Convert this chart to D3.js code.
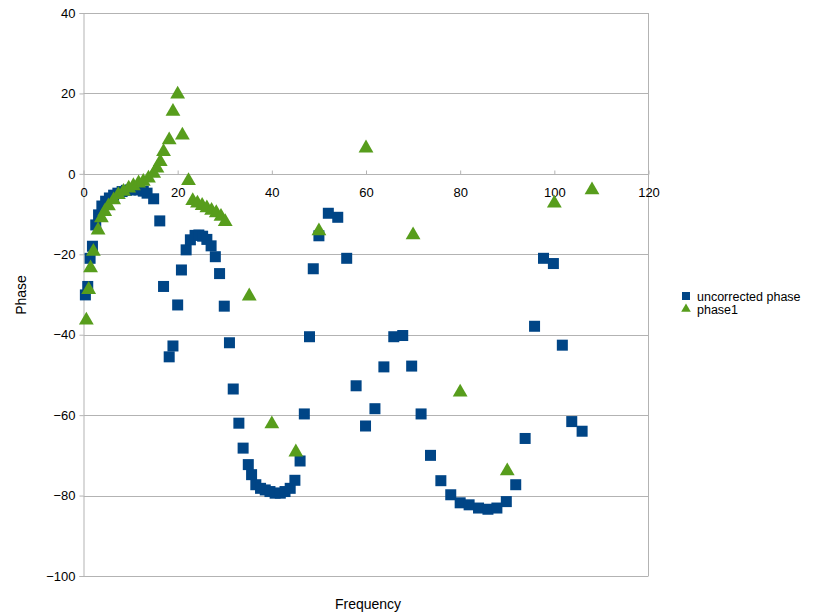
<!DOCTYPE html>
<html>
<head>
<meta charset="utf-8">
<script src="https://cdn.jsdelivr.net/npm/d3@7"></script>
<style>
  html, body { margin: 0; padding: 0; background: #fff; }
  svg { display: block; font-family: "Liberation Sans", Arial, sans-serif; }
</style>
</head>
<body>
<svg id="chart" width="826" height="615"></svg>
<script>
// ---- data ----
const seriesNames = ["uncorrected phase", "phase1"];
const xTicks = [0, 20, 40, 60, 80, 100, 120];
const yTicks = [40, 20, 0, -20, -40, -60, -80, -100];

const uncorrectedFreq = [0.4, 0.9, 1.4, 1.9, 2.6, 3.2, 3.9, 4.7, 5.5, 6.4, 7.3, 8.2, 9.1, 10, 10.9, 11.8, 12.7, 13.5, 14.9, 16.2, 17, 18.2, 19,
  20, 20.8, 21.8, 22.7, 23.7, 24.5, 25.3, 26.2, 27.1, 28, 28.9, 29.9, 31, 31.8, 33, 33.9, 35, 35.7, 36.6, 37.6, 38.6, 39.6, 40.7, 41.8, 42.8, 43.9, 44.9, 46, 46.9, 48, 48.8,
  50, 52, 54, 55.9, 57.9, 59.9, 61.9, 63.8, 65.9, 67.8, 69.7, 71.7, 73.7, 75.9, 78, 80, 81.9, 83.9, 85.9, 87.8, 89.8, 91.8, 93.8, 95.8, 97.7, 99.8, 101.7, 103.7, 105.9];
const uncorrectedPhase = [-30.1, -28, -21, -18, -12.7, -10.2, -8, -6.8, -6, -5.3, -4.8, -4.4, -4.1, -4, -3.9, -4, -4.3, -4.8, -6.2, -11.7, -28, -45.5, -42.8,
  -32.6, -23.9, -18.9, -16.4, -15.3, -15.2, -15.5, -16.3, -17.9, -20.6, -24.8, -32.9, -42, -53.5, -62, -68.2, -72.3, -74.8, -77.3, -78.2, -78.6, -79, -79.4, -79.4, -79, -78.2, -76.2, -71.4, -59.7, -40.5, -23.6,
  -15.4, -9.8, -10.8, -21, -52.7, -62.7, -58.4, -48, -40.5, -40.2, -47.8, -59.7, -70, -76.3, -79.8, -81.8, -82.3, -83.1, -83.4, -83.1, -81.5, -77.3, -65.8, -37.9, -21, -22.3, -42.6, -61.6, -64];

const phase1Freq = [0.6, 1.1, 1.5, 2.1, 3.1, 3.8, 4.5, 5.3, 6.4, 7.4, 8.5, 9.6, 10.6, 11.7, 12.7, 13.8, 14.9, 15.6, 16.3, 17, 18.2, 19, 20, 21, 22.3,
  23.2, 24.2, 25.2, 26.2, 27.2, 28.2, 29.2, 30.1, 35.2, 40, 45.1, 50, 60, 70, 80, 90, 100, 108];
const phase1Phase = [-36.4, -28.8, -23.4, -19.3, -14, -11, -9.4, -8, -6.5, -5.2, -4.4, -3.6, -3, -2.3, -1.9, -1.1, 0.1, 1.4, 3, 5.5, 8.4, 15.5, 19.8, 9.6, -1.7,
  -6.7, -7.3, -7.9, -8.5, -9.1, -9.7, -10.6, -11.9, -30.4, -62.2, -69.2, -14.2, 6.4, -15.2, -54.3, -73.9, -7.3, -4];

const colors = ["#004586", "#579d1c"];

// ---- chart ----
const svg = d3.select("#chart");
const plotLeft = 83.5, plotRight = 648.5, plotTop = 13, plotBottom = 576;

const x = d3.scaleLinear().domain([0, 120]).range([plotLeft, plotRight]);
const y = d3.scaleLinear().domain([-100, 40]).range([plotBottom, plotTop]);

const grid = "#b3b3b3";

// horizontal gridlines
svg.append("g").selectAll("line").data(yTicks).join("line")
  .attr("x1", plotLeft).attr("x2", plotRight)
  .attr("y1", d => Math.round(y(d)) + 0.5).attr("y2", d => Math.round(y(d)) + 0.5)
  .attr("stroke", grid).attr("stroke-width", 1);

// right border
svg.append("line").attr("x1", plotRight).attr("x2", plotRight).attr("y1", plotTop).attr("y2", plotBottom)
  .attr("stroke", grid);

// y axis
const yAxis = d3.axisLeft(y).tickValues(yTicks).tickSize(4).tickPadding(4).tickFormat(d3.format("d"));
const gy = svg.append("g").attr("transform", `translate(${plotLeft},0)`).call(yAxis);
gy.select(".domain").attr("stroke", grid);
gy.selectAll(".tick line").attr("stroke", grid);
gy.selectAll(".tick text").attr("font-size", 13).attr("fill", "#000")
  .attr("font-family", "Liberation Sans, Arial, sans-serif");

// x axis at y = 0
const xAxis = d3.axisBottom(x).tickValues(xTicks).tickSize(4).tickPadding(9).tickFormat(d3.format("d"));
const gx = svg.append("g").attr("transform", `translate(0,${Math.round(y(0)) + 0.5})`).call(xAxis);
gx.select(".domain").remove();
gx.selectAll(".tick line").attr("stroke", grid).attr("y1", -4).attr("y2", 0);
gx.selectAll(".tick text").attr("font-size", 13).attr("fill", "#000")
  .attr("font-family", "Liberation Sans, Arial, sans-serif");

// series 1: squares
const blue = uncorrectedFreq.map((f, i) => ({ f, p: uncorrectedPhase[i] }));
svg.append("g").selectAll("rect").data(blue).join("rect")
  .attr("x", d => x(d.f) - 5.5).attr("y", d => y(d.p) - 5.5)
  .attr("width", 11).attr("height", 11)
  .attr("fill", colors[0]);

// series 2: triangles
const green = phase1Freq.map((f, i) => ({ f, p: phase1Phase[i] }));
const tri = d3.symbol().type(d3.symbolTriangle).size(95);
svg.append("g").selectAll("path").data(green).join("path")
  .attr("d", tri)
  .attr("transform", d => `translate(${x(d.f)},${y(d.p)})`)
  .attr("fill", colors[1]);

// axis titles
svg.append("text").attr("x", (plotLeft + plotRight) / 2 + 2).attr("y", 609)
  .attr("text-anchor", "middle").attr("font-size", 14).text("Frequency");
svg.append("text").attr("transform", "translate(26,295) rotate(-90)")
  .attr("text-anchor", "middle").attr("font-size", 14).text("Phase");

// legend
const lg = svg.append("g");
lg.append("rect").attr("x", 682).attr("y", 292).attr("width", 8).attr("height", 8).attr("fill", colors[0]);
lg.append("text").attr("x", 697).attr("y", 301).attr("font-size", 12.5).text(seriesNames[0]);
lg.append("path").attr("d", d3.symbol().type(d3.symbolTriangle).size(40))
  .attr("transform", "translate(686,309)").attr("fill", colors[1]);
lg.append("text").attr("x", 697).attr("y", 314).attr("font-size", 12.5).text(seriesNames[1]);
</script>
</body>
</html>
